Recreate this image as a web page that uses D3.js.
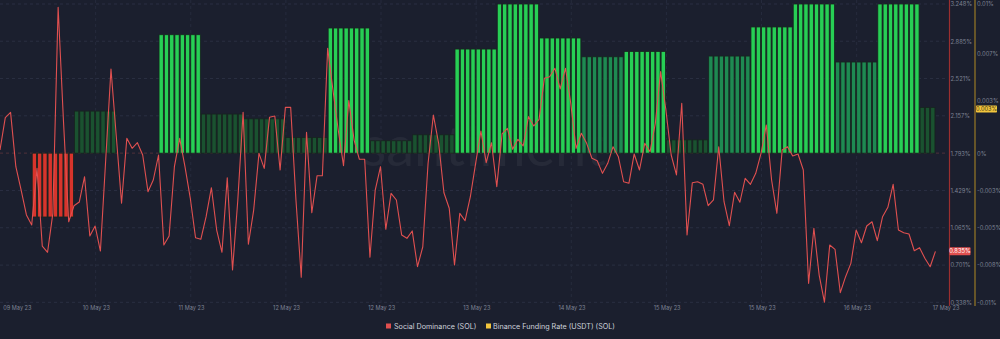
<!DOCTYPE html>
<html>
<head>
<meta charset="utf-8">
<script src="https://cdn.jsdelivr.net/npm/d3@7"></script>
<style>
  html, body { margin: 0; padding: 0; background: #1b1f2e; }
  svg { display: block; font-family: Inter, "Open Sans", sans-serif; }
</style>
</head>
<body>
<svg id="chart" width="1000" height="339"></svg>
<script>
// ---------------- DATA ----------------
// Social Dominance (SOL), hourly, in %
const socialDominance = [
  1.824, 2.139, 2.191, 1.661, 1.433, 1.190, 1.092, 1.645, 0.887, 0.826,
  1.206, 3.216, 2.116, 1.124, 1.280, 1.316, 1.563, 0.985, 1.082, 0.838,
  1.726, 2.614, 1.960, 1.304, 1.938, 1.840, 1.895, 1.775, 1.417, 1.531,
  1.775, 0.897, 0.985, 1.661, 1.938, 1.661, 1.355, 0.968, 0.953, 1.173,
  1.456, 1.043, 0.826, 1.553, 0.653, 1.336, 2.191, 0.904, 1.238, 1.791,
  1.645, 2.143, 2.155, 1.629, 2.240, 2.240, 1.336, 0.582, 1.996, 1.212,
  1.573, 1.573, 2.816, 2.409, 2.019, 1.671, 2.305, 1.921, 1.733, 1.733,
  0.777, 1.433, 1.661, 1.050, 1.401, 1.336, 0.995, 0.962, 1.034, 0.685,
  0.880, 1.694, 2.165, 1.889, 1.407, 1.255, 0.702, 1.206, 1.134, 1.368,
  1.694, 2.009, 1.700, 1.895, 1.466, 1.980, 2.035, 1.831, 1.928, 1.863,
  2.149, 2.058, 2.123, 2.523, 2.539, 2.621, 2.419, 2.621, 2.279, 1.840,
  1.987, 1.889, 1.743, 1.719, 1.596, 1.694, 1.856, 1.758, 1.514, 1.499,
  1.785, 1.629, 1.889, 1.807, 2.084, 2.588, 2.214, 1.775, 1.580, 2.279,
  0.995, 1.505, 1.514, 1.489, 1.280, 1.336, 1.856, 1.319, 1.085, 1.411,
  1.314, 1.548, 1.489, 1.596, 1.791, 2.068, 1.531, 1.206, 1.824, 1.856,
  1.765, 1.785, 1.629, 0.523, 1.060, 0.604, 0.340, 0.897, 0.855, 0.432,
  0.588, 0.718, 1.043, 0.919, 1.082, 1.124, 0.939, 1.173, 1.265, 1.489,
  1.043, 1.017, 1.004, 0.841, 0.871, 0.767, 0.685, 0.835
];
// Binance Funding Rate (USDT) (SOL), one value per 8-hour period, in %
const fundingRate = [
  -0.00428, 0.00282, 0.00000, 0.00794, 0.00262, 0.00230, 0.00105, 0.00839,
  0.00083, 0.00123, 0.00698, 0.01000, 0.00772, 0.00646, 0.00682, 0.00089,
  0.00651, 0.00846, 0.01000, 0.00611, 0.01000, 0.00306
];
const fundingStartHour = 6;      // first funding period starts at this hour
const fundingPeriodHours = 8;

// x-axis ticks (hours from start) and their labels
const xTickHours = [0, 18, 36, 54, 72, 90, 108, 126, 144, 162, 180];
const xTickLabels = ["09 May 23", "10 May 23", "11 May 23", "12 May 23", "12 May 23",
  "13 May 23", "14 May 23", "15 May 23", "15 May 23", "16 May 23", "17 May 23"];

// social dominance axis ticks
const sdTicks = [0.338, 0.701, 1.065, 1.429, 1.793, 2.157, 2.521, 2.885, 3.248];
const sdTickLabels = ["0.338%", "0.701%", "1.065%", "1.429%", "1.793%", "2.157%", "2.521%", "2.885%", "3.248%"];

// funding axis ticks
const frTicks = [-0.01, -0.0075, -0.005, -0.0025, 0, 0.003333, 0.006667, 0.01];
const frTickLabels = ["-0.01%", "-0.008%", "-0.005%", "-0.003%", "0%", "0.003%", "0.007%", "0.01%"];

const legendLabels = ["Social Dominance (SOL)", "Binance Funding Rate (USDT) (SOL)"];

// ---------------- DRAW ----------------
const svg = d3.select("#chart");

const plotRight = 946;
const x = d3.scaleLinear().domain([0, 179]).range([0, plotRight]);
const ySD = d3.scaleLinear().domain([0.338, 3.248]).range([302.3, 4]);
const yFR = d3.scaleLinear().domain([-0.01, 0.01]).range([302.3, 4]);

// watermark
svg.append("text")
  .attr("x", 484).attr("y", 166)
  .attr("text-anchor", "middle")
  .attr("font-family", "Lato, sans-serif")
  .attr("font-weight", 400)
  .attr("font-size", 56)
  .attr("fill", "#ffffff").attr("fill-opacity", 0.05)
  .text("santiment");

// grid
const grid = svg.append("g");
grid.selectAll("line.h").data(sdTicks).join("line")
  .attr("x1", 0).attr("x2", plotRight)
  .attr("y1", d => ySD(d)).attr("y2", d => ySD(d))
  .attr("stroke", "#2a2f42").attr("stroke-width", 1)
  .attr("stroke-dasharray", "3,3");
grid.selectAll("line.v").data(xTickHours.slice(1, -1)).join("line")
  .attr("x1", d => x(d) + 0.5).attr("x2", d => x(d) + 0.5)
  .attr("y1", 0).attr("y2", 303)
  .attr("stroke", "#262b3d").attr("stroke-width", 1)
  .attr("stroke-dasharray", "3,3");
// zero funding line
svg.append("line")
  .attr("x1", 0).attr("x2", plotRight)
  .attr("y1", yFR(0)).attr("y2", yFR(0))
  .attr("stroke", "#4a2a33").attr("stroke-width", 1)
  .attr("stroke-dasharray", "3,3");

// funding bars (hourly)
const lastHour = socialDominance.length - 1;
const bars = d3.range(fundingStartHour, lastHour).map(h => ({
  h, v: fundingRate[Math.floor((h - fundingStartHour) / fundingPeriodHours)]
})).filter(d => d.v !== undefined);

function barColor(v) {
  if (v < 0) return "#d8342c";
  if (v >= 0.0067) return "#27cf55";
  if (v >= 0.004) return "#1e8a52";
  return "#1a5230";
}
const step = x(1) - x(0);
svg.append("g").selectAll("rect").data(bars).join("rect")
  .attr("x", d => x(d.h) + 0.5)
  .attr("width", step - 1)
  .attr("y", d => Math.min(yFR(d.v), yFR(0)))
  .attr("height", d => Math.abs(yFR(d.v) - yFR(0)))
  .attr("fill", d => barColor(d.v))
  .attr("stroke", "#17241f").attr("stroke-width", 0.8);

// social dominance line
const line = d3.line().x((d, i) => x(i)).y(d => ySD(d));
svg.append("path").datum(socialDominance)
  .attr("d", line)
  .attr("fill", "none")
  .attr("stroke", "#e05050").attr("stroke-width", 1.1)
  .attr("stroke-linejoin", "round");

// x axis
const xAxis = d3.axisBottom(x).tickValues(xTickHours)
  .tickFormat((d, i) => xTickLabels[i]).tickSize(0);
const gx = svg.append("g").attr("transform", "translate(0.7,304)").call(xAxis);
gx.select(".domain").remove();
gx.selectAll("text").attr("fill", "#7d8293").attr("font-size", 5.6)
  .attr("font-family", "Inter, sans-serif").attr("dy", "0.6em");
gx.selectAll(".tick").filter((d, i) => i === 0).select("text")
  .attr("text-anchor", "start").attr("x", 2);
gx.selectAll(".tick").filter((d, i) => i === xTickHours.length - 1)
  .attr("transform", `translate(${946 - 0.7},0)`);

// right axis lines
svg.append("line").attr("x1", 949.5).attr("x2", 949.5).attr("y1", 0).attr("y2", 306)
  .attr("stroke", "#9c2f2f").attr("stroke-width", 1.2);
svg.append("line").attr("x1", 975).attr("x2", 975).attr("y1", 0).attr("y2", 306)
  .attr("stroke", "#9a7a26").attr("stroke-width", 1.2);

// social dominance axis
const aSD = d3.axisRight(ySD).tickValues(sdTicks)
  .tickFormat((d, i) => sdTickLabels[i]).tickSize(0).tickPadding(0);
const gSD = svg.append("g").attr("transform", "translate(950.5,0)").call(aSD);
gSD.select(".domain").remove();
gSD.selectAll("text").attr("fill", "#7d8293").attr("font-size", 5.8)
  .attr("font-family", "Inter, sans-serif");

// funding axis
const aFR = d3.axisRight(yFR).tickValues(frTicks)
  .tickFormat((d, i) => frTickLabels[i]).tickSize(0).tickPadding(0);
const gFR = svg.append("g").attr("transform", "translate(977,0)").call(aFR);
gFR.select(".domain").remove();
gFR.selectAll("text").attr("fill", "#7d8293").attr("font-size", 5.8)
  .attr("font-family", "Inter, sans-serif");
// keep the 0.003% tick label just above the last-value badge
gFR.selectAll(".tick").filter((d, i) => i === 5).select("text").attr("y", -2.6);

// last value badges
const lastSD = socialDominance[lastHour];
const lastFR = fundingRate[fundingRate.length - 1];
const bSD = svg.append("g").attr("transform", `translate(949.5,${ySD(lastSD)})`);
bSD.append("rect").attr("x", 0).attr("y", -4).attr("width", 21).attr("height", 8)
  .attr("fill", "#e04f4f").attr("rx", 0.8);
bSD.append("text").attr("x", 10.5).attr("y", 0).attr("dy", "0.35em")
  .attr("text-anchor", "middle").attr("font-size", 5.8).attr("fill", "#ffffff")
  .text(lastSD.toFixed(3) + "%");
const bFR = svg.append("g").attr("transform", `translate(976,${yFR(lastFR) + 1.5})`);
bFR.append("rect").attr("x", 0).attr("y", -3.5).attr("width", 21).attr("height", 7)
  .attr("fill", "#f2c53d").attr("rx", 0.8);
bFR.append("text").attr("x", 10.5).attr("y", 0).attr("dy", "0.35em")
  .attr("text-anchor", "middle").attr("font-size", 5.6).attr("fill", "#3a2f10")
  .text(lastFR.toFixed(3) + "%");

// legend
const legendColors = ["#e04f4f", "#f2c53d"];
const lg = svg.append("g").attr("transform", "translate(386,326)");
const item1 = lg.append("g");
item1.append("rect").attr("x", 0).attr("y", -2.5).attr("width", 5).attr("height", 5).attr("fill", legendColors[0]);
item1.append("text").attr("x", 8).attr("y", 0).attr("dy", "0.35em")
  .attr("font-size", 7.2).attr("fill", "#cfd3dc").text(legendLabels[0]);
const item2 = lg.append("g").attr("transform", "translate(100,0)");
item2.append("rect").attr("x", 0).attr("y", -2.5).attr("width", 5).attr("height", 5).attr("fill", legendColors[1]);
item2.append("text").attr("x", 7).attr("y", 0).attr("dy", "0.35em")
  .attr("font-size", 7.2).attr("fill", "#cfd3dc").text(legendLabels[1]);
</script>
</body>
</html>
